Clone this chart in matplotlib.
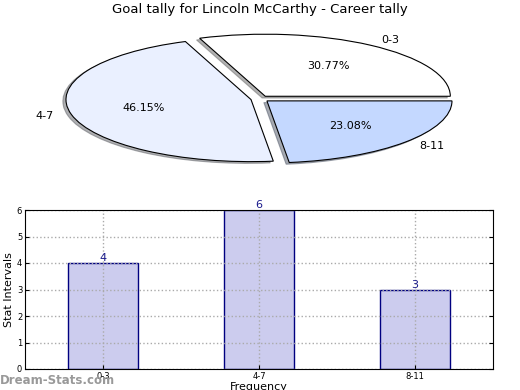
import matplotlib.pyplot as plt

# datos del grafico
categorias = ['0-3', '4-7', '8-11']
conteos = [4, 6, 3]
colores_pie = ['#ffffff', '#eaf0ff', '#c4d8ff']
titulo = 'Goal tally for Lincoln McCarthy - Career tally'

fig = plt.figure(figsize=(5.2, 3.9), dpi=100)

# pastel de arriba
ax1 = fig.add_axes([0, 190 / 390, 1, 180 / 390])
ax1.pie(conteos, labels=categorias, colors=colores_pie, autopct='%.2f%%',
        startangle=0, explode=[0.05, 0.05, 0.05],
        shadow={'ox': -0.012, 'oy': -0.02, 'shade': 0.6},
        wedgeprops={'edgecolor': 'black', 'linewidth': 0.8},
        textprops={'fontsize': 8})
ax1.set_aspect('auto')
ax1.set_xlim(-1.405, 1.405)
ax1.set_ylim(-1.63, 1.27)
ax1.axis('off')

fig.text(0.5, (390 - 10) / 390, titulo, ha='center', va='center', fontsize=9.5)

# barras de abajo
ax2 = fig.add_axes([25 / 520, 21 / 390, 468 / 520, 159 / 390])
x = range(len(categorias))
ax2.bar(x, conteos, width=0.45, color='#ccccee', edgecolor='#000080', linewidth=1, zorder=1)
for i, v in enumerate(conteos):
    ax2.text(i, v, str(v), ha='center', va='bottom', color='#1a1a8c', fontsize=8, zorder=3)
ax2.set_xlim(-0.5, 2.5)
ax2.set_ylim(0, 6)
ax2.set_xticks(list(x))
ax2.set_xticklabels(categorias)
ax2.tick_params(labelsize=6, direction='in', right=True, length=3, pad=2)
ax2.set_axisbelow(False)
ax2.grid(True, linestyle=':', color='#aaaaaa', linewidth=1)
for s in ax2.spines.values():
    s.set_zorder(5)
ax2.set_ylabel('Stat Intervals', fontsize=8, labelpad=2)
ax2.set_xlabel('Frequency', fontsize=8, labelpad=1)

fig.text(0.0, 9 / 390, 'Dream-Stats.com', color='#999999', fontsize=8.5,
         fontweight='bold', ha='left', va='center')

fig.savefig('out.png', dpi=100)
